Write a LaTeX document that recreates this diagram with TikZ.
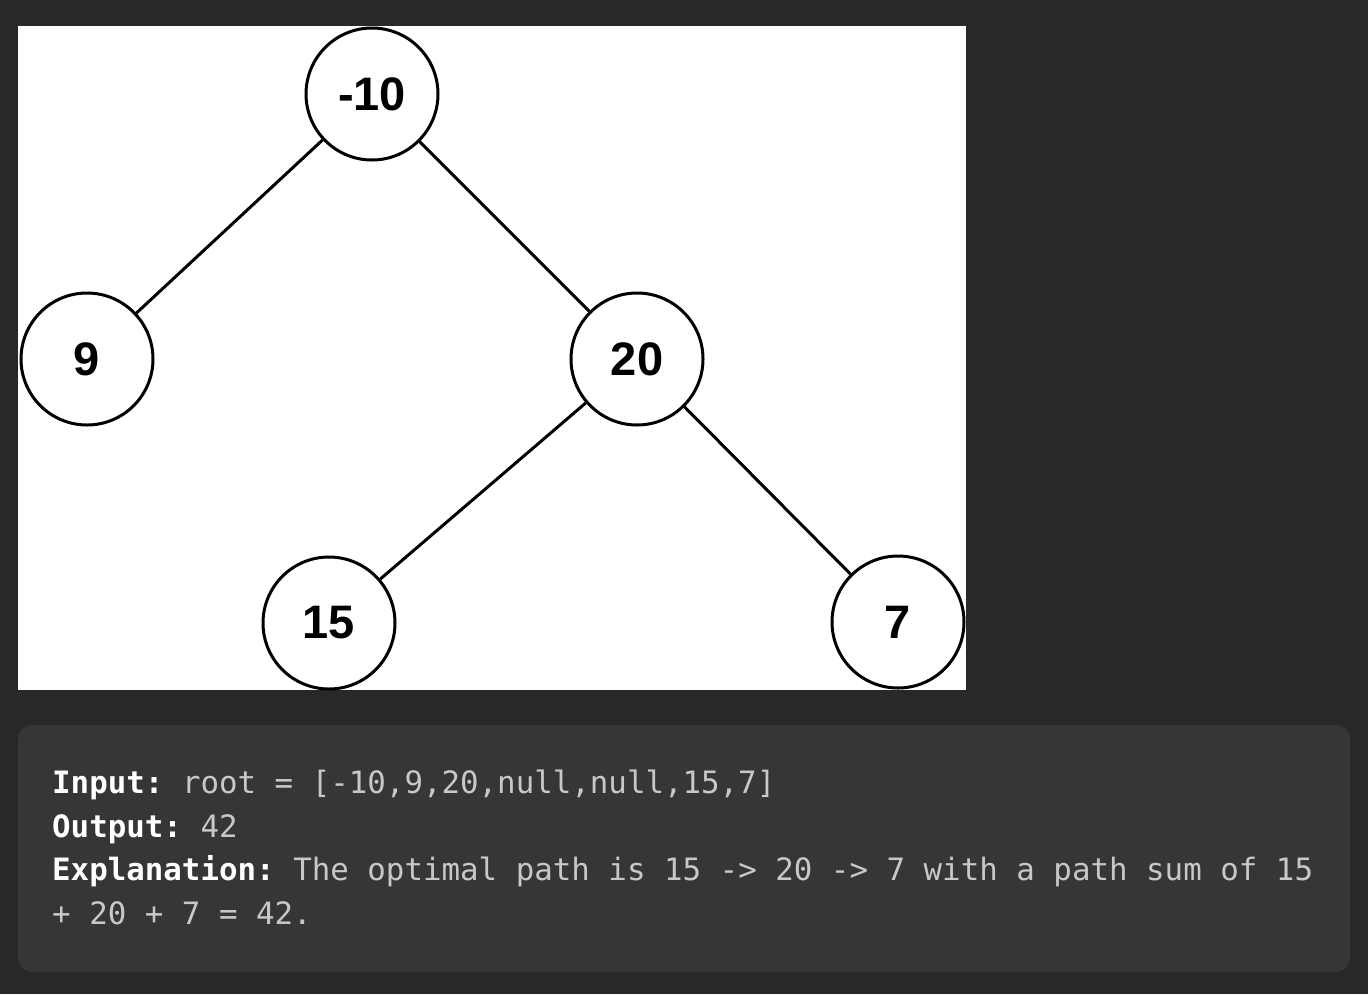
\documentclass[tikz,border=0pt]{standalone}
\usepackage{fontspec}
\setmainfont{Liberation Sans}
\setmonofont{DejaVu Sans Mono}
\usepackage{xcolor}
\usetikzlibrary{positioning}
\definecolor{bgdark}{HTML}{282828}
\definecolor{codebg}{HTML}{363636}
\definecolor{codefg}{HTML}{C8C8C8}

\begin{document}
\begin{tikzpicture}[x=1pt,y=-1pt]
		\fill[bgdark] (0,0) rectangle (1368,994);
		\useasboundingbox (0,0) rectangle (1368,994);
		\fill[white] (18,26) rectangle (966,690);
		\fill[codebg,rounded corners=14pt] (18,725) rectangle (1350,972);
		
		\begin{scope}
		\clip (18,26) rectangle (966,690);
		\tikzset{every node/.style={circle, draw, line width=3pt, minimum size=132pt, inner sep=0pt, font=\fontsize{47}{47}\selectfont\bfseries}}
		\draw (372,94) node (r1) {-10}
		(87,359) node (lc1) {9}
		(637,359) node (rc1) {20}
		(329,623) node (rrc1) {15}
		(898,622) node (rrc2) {7};
		
		\draw[line width=3pt] (r1) -- (lc1);
		\draw[line width=3pt] (r1) -- (rc1);
		\draw[line width=3pt] (rc1) -- (rrc1);
		\draw[line width=3pt] (rc1) -- (rrc2);
		\end{scope}
		
		\tikzset{every node/.style={anchor=base west, inner sep=0pt, text=codefg, font=\fontsize{30.8}{44}\selectfont\ttfamily}}
		\node (in1) at (52,793) {\textcolor{white}{\bfseries Input:} root = [-10,9,20,null,null,15,7]};
		\node (out1) at (52,837) {\textcolor{white}{\bfseries Output:} 42};
		\node (exp1) at (52,880) {\textcolor{white}{\bfseries Explanation:} The optimal path is 15 -> 20 -> 7 with a path sum of 15};
		\node (exp2) at (52,924) {+ 20 + 7 = 42.};
	\end{tikzpicture}
\end{document}
